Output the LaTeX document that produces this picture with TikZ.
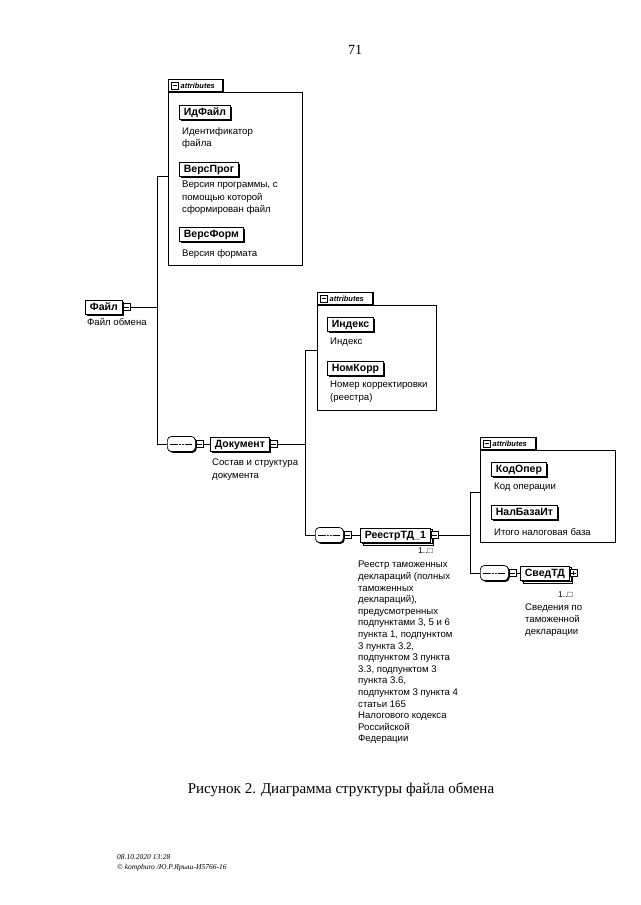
\documentclass[tikz,border=0pt]{standalone}
\usepackage{fontspec}
\setmainfont{Liberation Serif}
\newfontfamily\diafont{Liberation Sans}
\usetikzlibrary{shadows}

\tikzset{
  conn/.style={line width=0.7pt},
  elembox/.style={draw, fill=white, line width=0.7pt, inner xsep=4.5pt, inner ysep=0pt,
    text height=7.6pt, text depth=0.8pt,
    minimum height=14pt, anchor=west, font=\diafont\bfseries\fontsize{10.5}{12}\selectfont},
  elem/.style={elembox, general shadow={fill=black, shadow xshift=1.6pt, shadow yshift=-1.6pt}},
  elemrep/.style={elembox, double copy shadow={shadow xshift=1.7pt, shadow yshift=-1.7pt}},
  expm/.style={draw, fill=white, line width=0.6pt, minimum size=7.5pt, inner sep=0pt, anchor=west,
    path picture={\draw[line width=0.6pt] ([xshift=1.4pt]path picture bounding box.west)
      -- ([xshift=-1.4pt]path picture bounding box.east);}},
  expp/.style={draw, fill=white, line width=0.6pt, minimum size=7.5pt, inner sep=0pt, anchor=west,
    path picture={\draw[line width=0.6pt] ([xshift=1.4pt]path picture bounding box.west)
      -- ([xshift=-1.4pt]path picture bounding box.east);
      \draw[line width=0.6pt] ([yshift=1.4pt]path picture bounding box.south)
      -- ([yshift=-1.4pt]path picture bounding box.north);}},
  seq/.style={draw, fill=white, line width=0.7pt, rounded corners=4pt, minimum width=28pt,
    minimum height=15pt, inner sep=0pt, anchor=west,
    general shadow={fill=black, shadow xshift=1.3pt, shadow yshift=-1.3pt},
    path picture={\draw[line width=0.6pt] ([xshift=3pt]path picture bounding box.west)
      -- ([xshift=-3pt]path picture bounding box.east);
      \foreach \d in {-3,0,3} \fill ([xshift=\d pt]path picture bounding box.center) circle (1pt);}},
  desc/.style={anchor=north west, inner sep=0pt, align=left, font=\diafont\fontsize{9.6}{12.5}\selectfont},
  attrbody/.style={draw, line width=0.6pt, fill=white, anchor=north west, inner sep=0pt},
  attrtab/.style={draw, line width=0.6pt, fill=white, anchor=south west, inner sep=0pt,
    minimum height=12.5pt, general shadow={fill=black, shadow xshift=1.2pt, shadow yshift=0pt}},
  attrlabel/.style={anchor=west, inner sep=0pt, font=\diafont\bfseries\itshape\fontsize{7.5}{8}\selectfont},
  mult/.style={anchor=east, inner sep=0pt, font=\diafont\fontsize{8.5}{9}\selectfont},
}

\begin{document}
\begin{tikzpicture}[x=1pt,y=-1pt]
  %%%%% START %%%%%
  \useasboundingbox[fill=white] (0,0) rectangle (640,905);
  \def\xa{157}
  \def\xb{305}
  \def\xc{470}
  \def\ya{307}
  \def\yb{444}
  \def\yc{535}
  \def\yd{573}

  \node[font=\fontsize{14}{16}\selectfont] (pagenum) at (355,50) {71};

  %%%%% attributes of the file %%%%%
  \node[attrbody, minimum width=134pt, minimum height=173pt] (attA) at (168,92) {};
  \node[attrtab, minimum width=54pt] (tabA) at (attA.north west) {};
  \node[expm, minimum size=7pt] (tabAexp) at ([xshift=3pt]tabA.west) {};
  \node[attrlabel] (tabAlbl) at ([xshift=12.5pt]tabA.west) {attributes};

  \node[elem] (idfile) at (179,112) {ИдФайл};
  \node[desc] (idfiledesc) at (182,127) {Идентификатор\\файла};
  \node[elem] (versprog) at (179,169) {ВерсПрог};
  \node[desc] (versprogdesc) at (182,181) {Версия программы, с\\помощью которой\\сформирован файл};
  \node[elem] (versform) at (179,234) {ВерсФорм};
  \node[desc] (versformdesc) at (182,249) {Версия формата};

  %%%%% file %%%%%
  \node[elem] (file) at (85,\ya) {Файл};
  \node[expm] (fileexp) at (file.east) {};
  \node[desc] (filedesc) at (87,318) {Файл обмена};

  %%%%% attributes of the document %%%%%
  \node[attrbody, minimum width=119pt, minimum height=105pt] (attB) at (317,305) {};
  \node[attrtab, minimum width=55pt] (tabB) at (attB.north west) {};
  \node[expm, minimum size=7pt] (tabBexp) at ([xshift=3pt]tabB.west) {};
  \node[attrlabel] (tabBlbl) at ([xshift=12.5pt]tabB.west) {attributes};

  \node[elem] (index) at (327,324) {Индекс};
  \node[desc] (indexdesc) at (330,338) {Индекс};
  \node[elem] (nomkorr) at (327,368) {НомКорр};
  \node[desc] (nomkorrdesc) at (330,381) {Номер корректировки\\(реестра)};

  %%%%% document %%%%%
  \node[seq] (seqA) at (167,\yb) {};
  \node[expm] (seqAexp) at (seqA.east) {};
  \node[elem] (doc) at (210,\yb) {Документ};
  \node[expm] (docexp) at (doc.east) {};
  \node[desc] (docdesc) at (212,459) {Состав и структура\\документа};

  %%%%% attributes of the register %%%%%
  \node[attrbody, minimum width=135pt, minimum height=92pt] (attC) at (480,450) {};
  \node[attrtab, minimum width=55pt] (tabC) at (attC.north west) {};
  \node[expm, minimum size=7pt] (tabCexp) at ([xshift=3pt]tabC.west) {};
  \node[attrlabel] (tabClbl) at ([xshift=12.5pt]tabC.west) {attributes};

  \node[elem] (kodoper) at (491,469) {КодОпер};
  \node[desc] (kodoperdesc) at (494,483) {Код операции};
  \node[elem] (nalbaza) at (491,512) {НалБазаИт};
  \node[desc] (nalbazadesc) at (494,528) {Итого налоговая база};

  %%%%% register %%%%%
  \node[seq] (seqB) at (315,\yc) {};
  \node[expm] (seqBexp) at (seqB.east) {};
  \node[elemrep] (reestr) at (360,\yc) {РеестрТД\_1};
  \node[expm] (reestrexp) at (reestr.east) {};
  \node[mult] (reestrmult) at (433,551) {1..□};
  \node[desc, font=\diafont\fontsize{9.6}{11.6}\selectfont] (reestrdesc) at (358,561)
    {Реестр таможенных\\деклараций (полных\\таможенных\\деклараций),\\предусмотренных\\подпунктами 3, 5 и 6\\пункта 1, подпунктом\\3 пункта 3.2,\\подпунктом 3 пункта\\3.3, подпунктом 3\\пункта 3.6,\\подпунктом 3 пункта 4\\статьи 165\\Налогового кодекса\\Российской\\Федерации};

  %%%%% declaration %%%%%
  \node[seq] (seqC) at (480,\yd) {};
  \node[expm] (seqCexp) at (seqC.east) {};
  \node[elemrep] (sved) at (520,\yd) {СведТД};
  \node[expp] (svedexp) at (sved.east) {};
  \node[mult] (svedmult) at (573,595) {1..□};
  \node[desc, font=\diafont\fontsize{9.6}{12}\selectfont] (sveddesc) at (525,604) {Сведения по\\таможенной\\декларации};

  %%%%% connectors %%%%%
  \coordinate (trunkA) at (\xa,176);
  \coordinate (trunkB) at (\xb,350);
  \coordinate (trunkC) at (\xc,492);
  \draw[conn] (fileexp.east) -- (fileexp.east -| trunkA);
  \draw[conn] (attA.west |- trunkA) -- (trunkA) -- (trunkA |- seqA.west) -- (seqA.west);
  \draw[conn] (seqAexp.east) -- (doc.west);
  \draw[conn] (docexp.east) -- (docexp.east -| trunkB);
  \draw[conn] (attB.west |- trunkB) -- (trunkB) -- (trunkB |- seqB.west) -- (seqB.west);
  \draw[conn] (seqBexp.east) -- (reestr.west);
  \draw[conn] (reestrexp.east) -- (reestrexp.east -| trunkC);
  \draw[conn] (attC.west |- trunkC) -- (trunkC) -- (trunkC |- seqC.west) -- (seqC.west);
  \draw[conn] (seqCexp.east) -- (sved.west);

  %%%%% caption and stamp %%%%%
  \node[font=\fontsize{15}{18}\selectfont] (caption) at (341,790)
    {Рисунок 2. Диаграмма структуры файла обмена};
  \node[anchor=north west, inner sep=0pt, align=left, font=\itshape\fontsize{7.5}{10}\selectfont]
    (stamp) at (117,854) {08.10.2020 13:28\\© kompburo /Ю.Р.Ярыш-И5766-16};
  %%%%% END %%%%%
\end{tikzpicture}
\end{document}
